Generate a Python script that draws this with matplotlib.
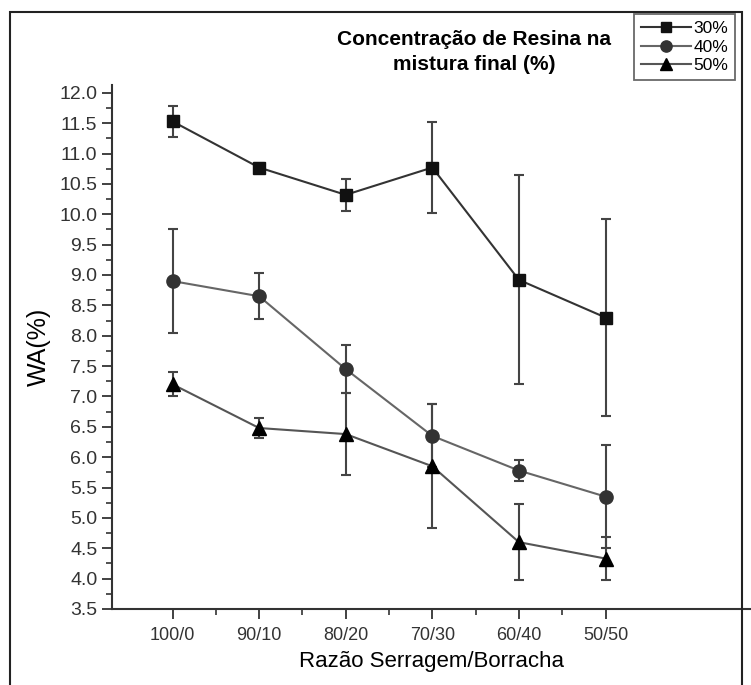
import matplotlib
matplotlib.use("Agg")
import matplotlib.pyplot as plt
from matplotlib.patches import Rectangle
from matplotlib.ticker import MultipleLocator, FixedLocator, FormatStrFormatter

plt.rcParams['font.family'] = ['Liberation Sans', 'DejaVu Sans']

ratios = ["100/0", "90/10", "80/20", "70/30", "60/40", "50/50"]
series = ["30%", "40%", "50%"]
wa_30 = [11.53, 10.77, 10.32, 10.77, 8.92, 8.30]
err_30 = [0.25, 0.07, 0.26, 0.75, 1.72, 1.62]
wa_40 = [8.90, 8.65, 7.45, 6.35, 5.78, 5.35]
err_40 = [0.85, 0.38, 0.40, 0.52, 0.18, 0.85]
wa_50 = [7.20, 6.48, 6.38, 5.85, 4.60, 4.33]
err_50 = [0.20, 0.17, 0.68, 1.02, 0.63, 0.35]

fig = plt.figure(figsize=(7.51, 6.85), dpi=100)
ax = fig.add_axes([0.149, 0.111, 0.851, 0.765])

x = list(range(len(ratios)))
styles = [
    (wa_30, err_30, "s", "#111111", "#333333", 9),
    (wa_40, err_40, "o", "#333333", "#666666", 9.5),
    (wa_50, err_50, "^", "#000000", "#555555", 10),
]
for (vals, errs, mk, mc, lc, ms), name in zip(styles, series):
    ax.errorbar(x, vals, yerr=errs, fmt="none", ecolor="#444444",
                elinewidth=1.5, capsize=3.5, capthick=1.5, zorder=2)
    ax.plot(x, vals, color=lc, lw=1.5, marker=mk, ms=ms, mfc=mc, mec=mc,
            label=name, zorder=3)

ax.set_xlim(-0.70, 6.68)
ax.set_ylim(3.5, 12.13)
ax.set_xticks(x)
ax.set_xticklabels(ratios)
ax.xaxis.set_minor_locator(FixedLocator([i + 0.5 for i in x[:-1]]))
ax.yaxis.set_major_locator(MultipleLocator(0.5))
ax.yaxis.set_minor_locator(MultipleLocator(0.25))
ax.yaxis.set_major_formatter(FormatStrFormatter("%.1f"))
ax.tick_params(which="major", direction="out", length=7, width=1.3,
               colors="#333333", labelcolor="#333333")
ax.tick_params(axis="y", labelsize=14)
ax.tick_params(axis="x", labelsize=13, pad=6)
ax.tick_params(which="minor", direction="out", length=4, width=1.2, colors="#333333")

for s in ["top", "right"]:
    ax.spines[s].set_visible(False)
for s in ["left", "bottom"]:
    ax.spines[s].set_linewidth(1.5)
    ax.spines[s].set_color("#333333")

ax.set_ylabel("WA(%)", fontsize=18, labelpad=6)
ax.set_xlabel("Razão Serragem/Borracha", fontsize=16, labelpad=5)

fig.text(474 / 751, 1 - 52 / 685, "Concentração de Resina na\nmistura final (%)",
         ha="center", va="center", fontsize=15, fontweight="bold", linespacing=1.4)

leg = fig.legend(loc="upper right", bbox_to_anchor=(735 / 751, 1 - 14 / 685),
                 fontsize=12.5, frameon=True, fancybox=False, handlelength=2.9,
                 handletextpad=0.1, borderpad=0.4, labelspacing=0.2,
                 borderaxespad=0, markerscale=0.85)
leg.get_frame().set_edgecolor("#444444")
leg.get_frame().set_linewidth(1.3)

fig.patches.append(Rectangle((10 / 751, -0.1), 732 / 751, 1.1 - 12 / 685,
                             transform=fig.transFigure, fill=False,
                             edgecolor="#222222", lw=1.5))

fig.savefig("out.png", dpi=100)
